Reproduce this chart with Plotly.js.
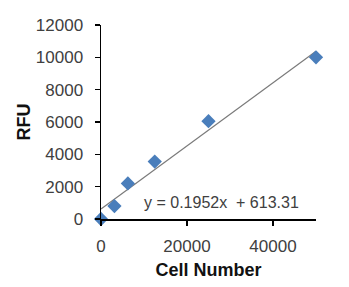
<!DOCTYPE html>
<html><head><meta charset="utf-8">
<script src="https://cdn.plot.ly/plotly-3.0.1.min.js"></script>
<style>html,body{margin:0;padding:0;background:#fff}#chart{width:349px;height:287px}</style>
</head><body><div id="chart"></div>
<script>
const cellNumber = [0, 3125, 6250, 12500, 25000, 50000];
const rfu = [0, 800, 2200, 3550, 6050, 10000];
const slope = 0.1952;
const intercept = 613.31;
const equationText = "y = 0.1952x  + 613.31";
const xTicks = [0, 20000, 40000];
const yTicks = [0, 2000, 4000, 6000, 8000, 10000, 12000];

const trendX = [0, 50000];
const trendY = trendX.map(x => slope * x + intercept);

const font = "Liberation Sans, Arial, sans-serif";
const data = [
  {x: trendX, y: trendY, mode: 'lines', line: {color: '#7a7a7a', width: 1.2}, hoverinfo: 'skip', cliponaxis: false},
  {x: cellNumber, y: rfu, mode: 'markers', marker: {symbol: 'diamond', size: 11, color: '#4a7ebb'}, cliponaxis: false}
];
const layout = {
  width: 349, height: 287,
  margin: {l: 101, r: 33, t: 25, b: 68},
  showlegend: false,
  paper_bgcolor: '#fff', plot_bgcolor: '#fff',
  font: {family: font, color: '#404040', size: 17},
  xaxis: {
    range: [0, 50000], tickvals: xTicks, ticktext: xTicks.map(String),
    showgrid: false, zeroline: false, showline: true, linecolor: '#000', linewidth: 1.5,
    ticks: 'outside', ticklen: 5, tickcolor: '#000', tickwidth: 1.5, ticklabelstandoff: 6,
    tickfont: {size: 17, color: '#404040'},
    title: {text: '<b>Cell Number</b>', font: {size: 18, color: '#111'}, standoff: 8}
  },
  yaxis: {
    range: [0, 12000], tickvals: yTicks, ticktext: yTicks.map(String),
    showgrid: false, zeroline: false, showline: true, linecolor: '#000', linewidth: 1.5,
    ticks: 'outside', ticklen: 5, tickcolor: '#000', tickwidth: 1.5, ticklabelstandoff: 8,
    tickfont: {size: 17, color: '#404040'},
    title: {text: '<b>RFU</b>', font: {size: 18, color: '#111'}, standoff: 0}
  },
  annotations: [{
    x: 28100, y: 1050, xref: 'x', yref: 'y', text: equationText, showarrow: false,
    xanchor: 'center', yanchor: 'middle', font: {size: 16, color: '#404040', family: font}
  }]
};
Plotly.newPlot('chart', data, layout, {staticPlot: true, displayModeBar: false});
</script></body></html>
